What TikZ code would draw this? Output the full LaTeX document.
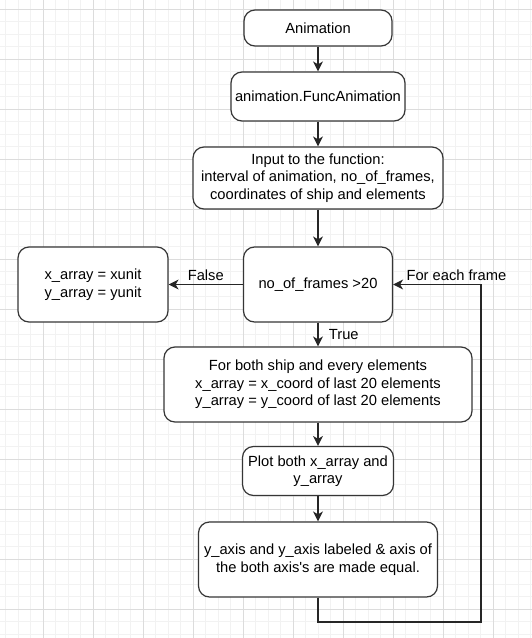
\documentclass[tikz,border=0pt]{standalone}
\usepackage{fontspec}
\setmainfont{Liberation Sans}
\usetikzlibrary{arrows.meta}
\definecolor{gridminor}{HTML}{F2F2F2}
\definecolor{gridmajor}{HTML}{DCDCDC}
\definecolor{boxline}{HTML}{363636}

\begin{document}
\begin{tikzpicture}[x=1pt,y=1pt,
        box/.style={draw=boxline,line width=1.2pt,rounded corners=11pt,fill=white,
            align=center,inner sep=1pt,font=\fontsize{14.7}{17.6}\selectfont},
        flow/.style={draw=black!85,line width=1.3pt,-{Stealth[length=10pt,width=10pt,inset=3pt]}},
        lbl/.style={font=\fontsize{14.7}{17.6}\selectfont}]
            \useasboundingbox (0,0) rectangle (532,-638);
            \fill[white] (0,0) rectangle (532,-638);
            \begin{scope}
                \clip (0,0) rectangle (532,-638);
                \draw[step=12.5pt,gridminor,line width=1pt,shift={(43.33,-9.33)}] (-100,-700) grid (550,50);
                \draw[step=50pt,gridmajor,line width=1pt,shift={(43.33,-9.33)}] (-100,-700) grid (550,50);
            \end{scope}

            \node[box,minimum width=148pt,minimum height=36pt] (anim) at (318,-28) {Animation};
            \node[box,minimum width=174pt,minimum height=49pt] (func) at (318,-96.5) {animation.FuncAnimation};
            \node[box,minimum width=250pt,minimum height=62pt] (input) at (318,-178) {Input to the function:\\interval of animation, no\_of\_frames,\\coordinates of ship and elements};
            \node[box,minimum width=149pt,minimum height=75pt] (cond) at (318,-284.5) {no\_of\_frames \textgreater20};
            \node[box,minimum width=150pt,minimum height=75pt] (xarr) at (93,-284.5) {x\_array = xunit\\y\_array = yunit};
            \node[box,minimum width=308pt,minimum height=75pt] (both) at (318,-384.5) {For both ship and every elements\\x\_array = x\_coord of last 20 elements\\y\_array = y\_coord of last 20 elements};
            \node[box,minimum width=151pt,minimum height=49pt] (plot) at (318,-471) {Plot both x\_array and\\y\_array};
            \node[box,minimum width=239pt,minimum height=75pt] (yaxis) at (318,-559.5) {y\_axis and y\_axis labeled \& axis of\\the both axis\textquotesingle s are made equal.};
            \coordinate (turn) at (481,-622);

            \draw[flow] (anim) -- (func);
            \draw[flow] (func) -- (input);
            \draw[flow] (input) -- (cond);
            \draw[flow] (cond) -- node[lbl,above] {False} (xarr);
            \draw[flow] (cond) -- node[lbl,right=7pt] {True} (both);
            \draw[flow] (both) -- (plot);
            \draw[flow] (plot) -- (yaxis);
            \draw[flow] (yaxis.south) |- (turn) |- node[lbl,above,pos=0.64] {For each frame} (cond.east);
        \end{tikzpicture}
\end{document}
